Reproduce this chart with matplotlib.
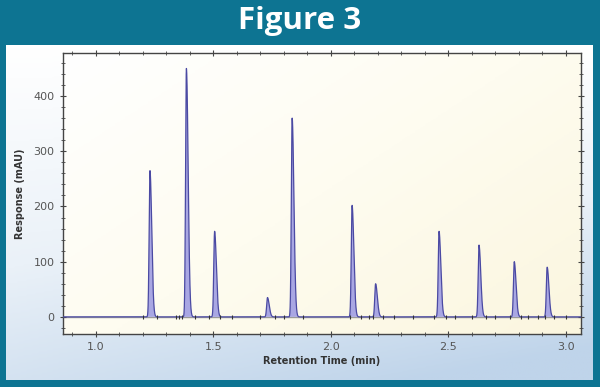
import numpy as np
import matplotlib
matplotlib.use("Agg")
import matplotlib.pyplot as plt
from matplotlib.colors import LinearSegmentedColormap
from matplotlib.ticker import MultipleLocator

# ---- data ----
peak_times = [1.230, 1.385, 1.505, 1.730, 1.835, 2.090, 2.190, 2.460, 2.630, 2.780, 2.920]
peak_heights = [265, 450, 155, 35, 360, 202, 60, 155, 130, 100, 90]
marker_times = [1.20, 1.26, 1.34, 1.355, 1.365, 1.42, 1.48, 1.53, 1.58, 1.70, 1.76,
                1.80, 1.88, 2.08, 2.13, 2.16, 2.18, 2.22, 2.27, 2.35, 2.44, 2.49,
                2.53, 2.60, 2.66, 2.70, 2.76, 2.81, 2.84, 2.88, 2.91, 2.95, 3.00]
xticks = [1.0, 1.5, 2.0, 2.5, 3.0]
yticks = [0, 100, 200, 300, 400]
title = "Figure 3"
xlabel = "Retention Time (min)"
ylabel = "Response (mAU)"

TEAL = "#0d7492"
W, H = 600, 387

fig = plt.figure(figsize=(6.0, 3.87), dpi=100)
fig.patch.set_facecolor(TEAL)

# inner light panel with gradient
panel = fig.add_axes([6/W, (H - 380)/H, 587/W, 335/H])
panel.set_axis_off()
gx, gy = np.meshgrid(np.linspace(0, 1, 200), np.linspace(0, 1, 200))
g = np.clip(0.75 * gy + 0.35 * gx * gy, 0, 1)
cm_panel = LinearSegmentedColormap.from_list("p", ["#ffffff", "#eaf1f8", "#bfd4ea"])
panel.imshow(g, cmap=cm_panel, extent=[0, 1, 0, 1], aspect="auto", origin="upper")
panel.set_xlim(0, 1); panel.set_ylim(0, 1)

fig.text(0.5, 1 - 21/H, title, ha="center", va="center", color="white",
         fontsize=22.5, fontweight="bold", family="Open Sans")

ax = fig.add_axes([63/W, 1 - 334/H, 518/W, 281/H])
# light cream gradient background in the plot area
ga = np.clip(0.55 * gx + 0.45 * gy, 0, 1)
cm_ax = LinearSegmentedColormap.from_list("a", ["#ffffff", "#fefcf0", "#fbf6df"])
ax.imshow(ga, cmap=cm_ax, extent=[0, 1, 0, 1], aspect="auto", origin="upper",
          transform=ax.transAxes, zorder=0)

t = np.linspace(0.86, 3.10, 8000)
y = np.zeros_like(t)
for pt, ph in zip(peak_times, peak_heights):
    s = np.where(t < pt, 0.0035, 0.0075)
    y += ph * np.exp(-0.5 * ((t - pt) / s) ** 2)

ax.axhline(0, color="#9a9a9a", lw=1.0, zorder=1)
ax.fill_between(t, 0, y, where=y > 0.3, color="#a9a7e3", zorder=2, lw=0)
ax.plot(t, y, color="#4b4aa3", lw=0.9, zorder=3)
ax.vlines(marker_times, -4, 4, color="#333333", lw=0.8, zorder=4)

ax.set_xlim(0.86, 3.064)
ax.set_ylim(-31, 478)
ax.set_xticks(xticks)
ax.set_yticks(yticks)
ax.xaxis.set_minor_locator(MultipleLocator(0.1))
ax.yaxis.set_minor_locator(MultipleLocator(20))
ax.tick_params(which="both", direction="inout", top=True, right=True,
               colors="#444444", labelcolor="#555555", labelsize=8)
ax.tick_params(which="major", length=5)
ax.tick_params(which="minor", length=3)
for sp in ax.spines.values():
    sp.set_color("#444444")
    sp.set_linewidth(1.0)

ax.set_xlabel(xlabel, fontsize=7, fontweight="bold", color="#333333", labelpad=3)
ax.set_ylabel(ylabel, fontsize=7, fontweight="bold", color="#333333", labelpad=6)

fig.savefig("out.png", dpi=100, facecolor=fig.get_facecolor())
